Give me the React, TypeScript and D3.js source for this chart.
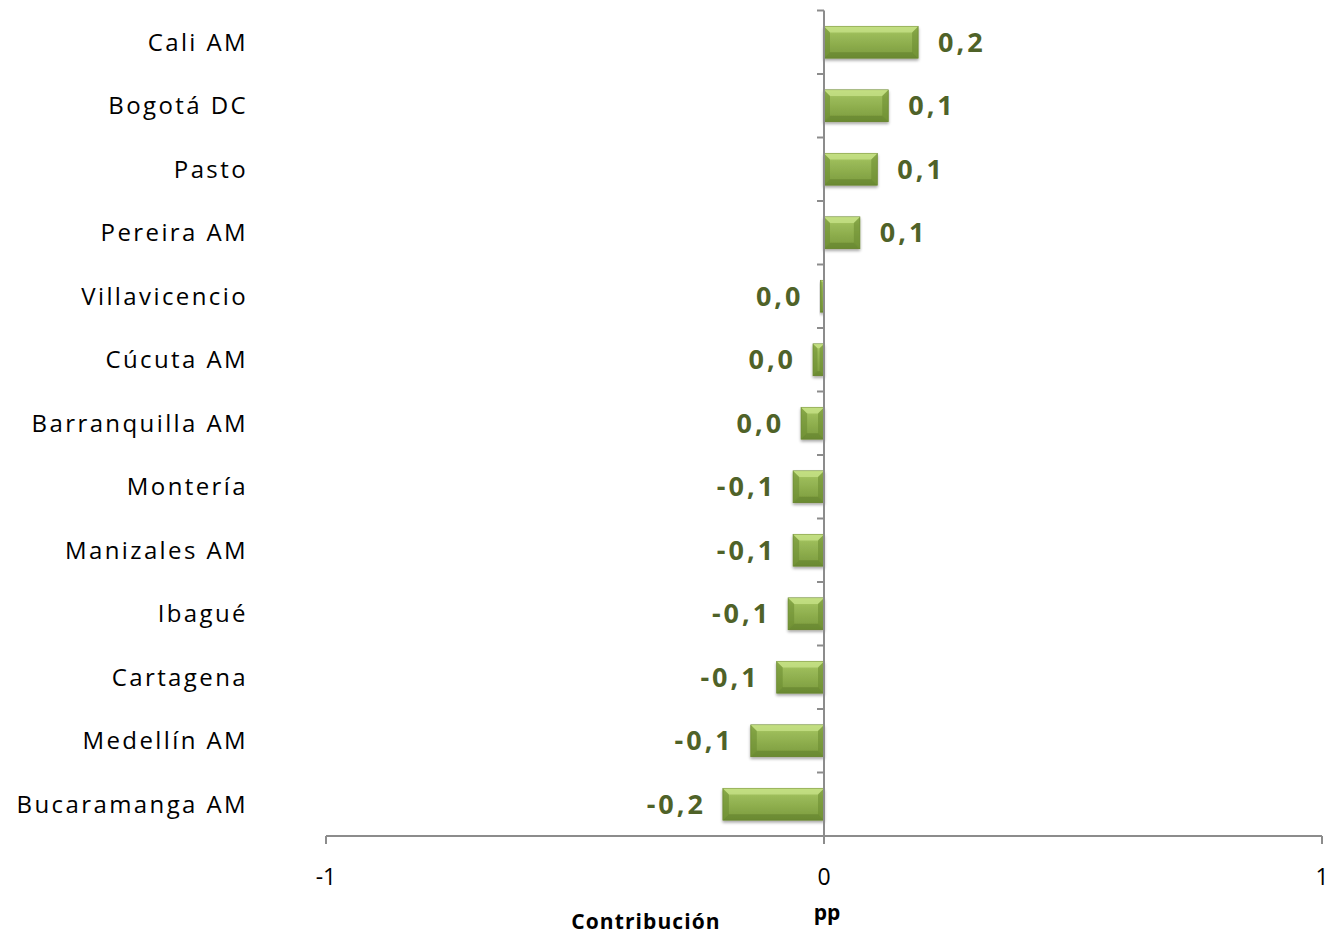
import React from "react";
import * as d3 from "d3";

const categories = [
  "Cali AM",
  "Bogotá DC",
  "Pasto",
  "Pereira AM",
  "Villavicencio",
  "Cúcuta AM",
  "Barranquilla AM",
  "Montería",
  "Manizales AM",
  "Ibagué",
  "Cartagena",
  "Medellín AM",
  "Bucaramanga AM",
];
const values = [0.189, 0.129, 0.107, 0.072, -0.007, -0.022, -0.046, -0.062, -0.062, -0.072, -0.095, -0.147, -0.203];
const valueLabels = ["0,2", "0,1", "0,1", "0,1", "0,0", "0,0", "0,0", "-0,1", "-0,1", "-0,1", "-0,1", "-0,1", "-0,2"];
const xTicks = [-1, 0, 1];
const xTickLabels = ["-1", "0", "1"];
const axisTitle = "Contribución";
const unitLabel = "pp";

const W = 1328;
const H = 937;
const axisColor = "#8c8c8c";
const labelColor = "#4f6228";
const font = "'Open Sans', 'Liberation Sans', sans-serif";

export default function App() {
  const x = d3.scaleLinear().domain([-1, 1]).range([326, 1322]);
  const y = d3
    .scaleBand<string>()
    .domain(categories)
    .range([10.5, 836])
    .paddingInner(0.5)
    .paddingOuter(0.25);
  const step = y.step();
  const bw = y.bandwidth();
  const x0 = x(0);
  const yTop = 10.5;
  const yBottom = 836;
  const boundaries = d3.range(categories.length + 1).map((i) => yTop + i * step);

  return (
    <svg
      width={W}
      height={H}
      style={{ position: "absolute", left: 0, top: 0, background: "#fff" }}
      fontFamily={font}
    >
      <defs>
        <linearGradient id="barGrad" x1="0" y1="0" x2="0" y2="1">
          <stop offset="0" stopColor="#b3d36a" />
          <stop offset="0.25" stopColor="#9bbb59" />
          <stop offset="1" stopColor="#7a9a3c" />
        </linearGradient>
        <filter id="shadow" x="-20%" y="-30%" width="140%" height="160%">
          <feGaussianBlur in="SourceAlpha" stdDeviation="1.5" />
          <feOffset dx="0" dy="1.5" result="b" />
          <feComponentTransfer>
            <feFuncA type="linear" slope="0.35" />
          </feComponentTransfer>
          <feMerge>
            <feMergeNode />
            <feMergeNode in="SourceGraphic" />
          </feMerge>
        </filter>
      </defs>

      {/* bars */}
      {categories.map((c, i) => {
        const v = values[i];
        const xa = Math.min(x(v), x0);
        const xb = Math.max(x(v), x0);
        const w = Math.max(xb - xa, 1.5);
        const top = y(c)!;
        const b = Math.min(6, w / 2.5, bw / 3);
        return (
          <g key={c} filter="url(#shadow)">
            <rect x={xa} y={top} width={w} height={bw} fill="url(#barGrad)" stroke="#6f8c35" strokeWidth={0.8} />
            <polygon
              points={`${xa},${top} ${xa + w},${top} ${xa + w - b},${top + b} ${xa + b},${top + b}`}
              fill="#c8e38a"
              opacity={0.75}
            />
            <polygon
              points={`${xa},${top} ${xa + b},${top + b} ${xa + b},${top + bw - b} ${xa},${top + bw}`}
              fill="#6a8a2f"
              opacity={0.55}
            />
            <polygon
              points={`${xa + w},${top} ${xa + w - b},${top + b} ${xa + w - b},${top + bw - b} ${xa + w},${top + bw}`}
              fill="#6a8a2f"
              opacity={0.55}
            />
            <polygon
              points={`${xa},${top + bw} ${xa + b},${top + bw - b} ${xa + w - b},${top + bw - b} ${xa + w},${top + bw}`}
              fill="#5f7d2a"
              opacity={0.55}
            />
          </g>
        );
      })}

      {/* y axis */}
      <line x1={x0} x2={x0} y1={yTop} y2={yBottom} stroke={axisColor} strokeWidth={2} />
      {boundaries.map((b, i) => (
        <line key={i} x1={x0 - 7} x2={x0} y1={b} y2={b} stroke={axisColor} strokeWidth={2} />
      ))}

      {/* x axis */}
      <line x1={x(-1)} x2={x(1)} y1={yBottom} y2={yBottom} stroke={axisColor} strokeWidth={2} />
      {xTicks.map((t) => (
        <line key={t} x1={x(t)} x2={x(t)} y1={yBottom} y2={yBottom + 8} stroke={axisColor} strokeWidth={2} />
      ))}
      {xTicks.map((t, i) => (
        <text key={t} x={x(t)} y={885} textAnchor="middle" fontSize={23} fill="#000">
          {xTickLabels[i]}
        </text>
      ))}

      {/* category labels */}
      {categories.map((c) => (
        <text
          key={c}
          x={248}
          y={y(c)! + bw / 2}
          dy="0.36em"
          textAnchor="end"
          fontSize={24}
          letterSpacing={2.4}
          fill="#000"
        >
          {c}
        </text>
      ))}

      {/* value labels */}
      {categories.map((c, i) => {
        const v = values[i];
        const pos = valueLabels[i].charAt(0) !== "-" && v > 0;
        const xv = pos ? Math.max(x(v), x0) + 20 : Math.min(x(v), x0) - 17;
        return (
          <text
            key={c}
            x={xv}
            y={y(c)! + bw / 2}
            dy="0.36em"
            textAnchor={pos ? "start" : "end"}
            fontSize={27}
            fontWeight="bold"
            letterSpacing={3}
            fill={labelColor}
          >
            {valueLabels[i]}
          </text>
        );
      })}

      {/* axis titles */}
      <text x={646} y={929} textAnchor="middle" fontSize={21} fontWeight="bold" letterSpacing={1.1} fill="#000">
        {axisTitle}
      </text>
      <text x={827} y={920} textAnchor="middle" fontSize={21} fontWeight="bold" fill="#000">
        {unitLabel}
      </text>
    </svg>
  );
}
